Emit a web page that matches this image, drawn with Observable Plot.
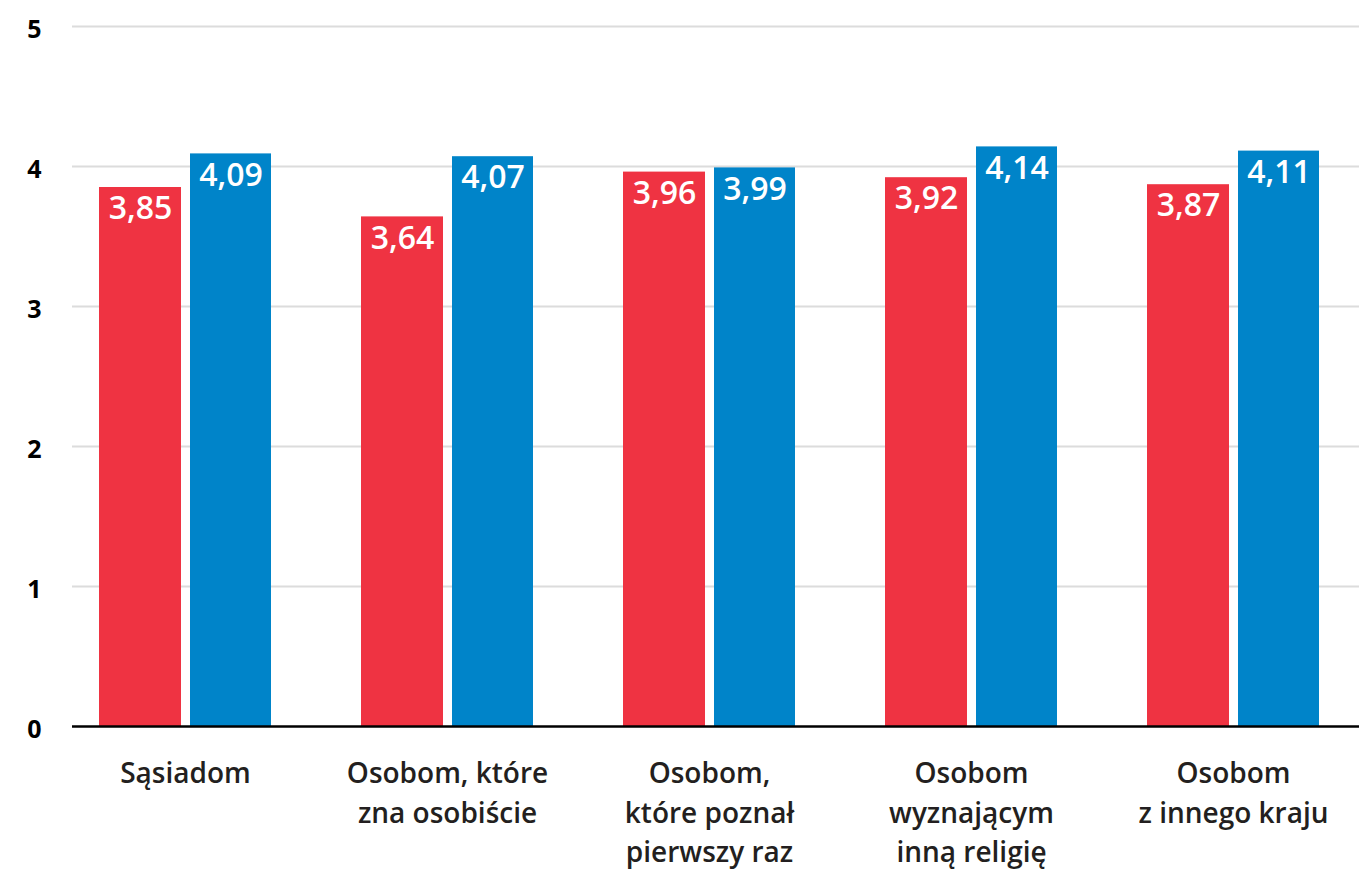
<!DOCTYPE html>
<html>
<head>
<meta charset="utf-8">
<script src="https://cdn.jsdelivr.net/npm/d3@7"></script>
<script src="https://cdn.jsdelivr.net/npm/@observablehq/plot@0.6"></script>
<style>
  html, body { margin: 0; padding: 0; background: #fff; }
  #chart svg { display: block; }
</style>
</head>
<body>
<div id="chart"></div>
<script>
const categories = [
  "Sąsiadom",
  "Osobom, które\nzna osobiście",
  "Osobom,\nktóre poznał\npierwszy raz",
  "Osobom\nwyznającym\ninną religię",
  "Osobom\nz innego kraju"
];
const redValues = [3.85, 3.64, 3.96, 3.92, 3.87];
const blueValues = [4.09, 4.07, 3.99, 4.14, 4.11];
const yTicks = [0, 1, 2, 3, 4, 5];

const red = "#ef3342";
const blue = "#0084c9";
const fmt = v => v.toFixed(2).replace(".", ",");

const redData = categories.map((c, i) => ({cat: c, value: redValues[i]}));
const blueData = categories.map((c, i) => ({cat: c, value: blueValues[i]}));

const chart = Plot.plot({
  width: 1359,
  height: 870,
  marginLeft: 72,
  marginRight: 0,
  marginTop: 26,
  marginBottom: 144,
  style: {fontFamily: "'Open Sans', sans-serif", background: "#fff"},
  x: {domain: categories, range: [54, 1364], padding: 0, axis: null},
  y: {domain: [0, 5], axis: null},
  marks: [
    Plot.gridY(yTicks.filter(t => t > 0), {stroke: "#dcdcdc", strokeWidth: 2, strokeOpacity: 1}),
    Plot.axisY(yTicks, {label: null, tickSize: 0, tickPadding: 31, dy: 3, fontSize: 25, fontWeight: "bold", fill: "#000", tickFormat: d => String(d)}),
    Plot.barY(redData, {x: "cat", y: "value", fill: red, insetLeft: 45, insetRight: 135}),
    Plot.barY(blueData, {x: "cat", y: "value", fill: blue, insetLeft: 136, insetRight: 45}),
    Plot.text(redData, {x: "cat", y: "value", text: d => fmt(d.value), dx: -45, dy: 9, lineAnchor: "top", fill: "#fff", fontSize: 32, fontWeight: 600}),
    Plot.text(blueData, {x: "cat", y: "value", text: d => fmt(d.value), dx: 45.5, dy: 9, lineAnchor: "top", fill: "#fff", fontSize: 32, fontWeight: 600}),
    Plot.ruleY([0], {stroke: "#000", strokeWidth: 2.5}),
    Plot.text(categories, {x: d => d, frameAnchor: "bottom", lineAnchor: "top", dy: 29, lineHeight: 1.4, fontSize: 28, fontWeight: 600, fill: "#231f20", text: d => d})
  ]
});
document.getElementById("chart").append(chart);
</script>
</body>
</html>
